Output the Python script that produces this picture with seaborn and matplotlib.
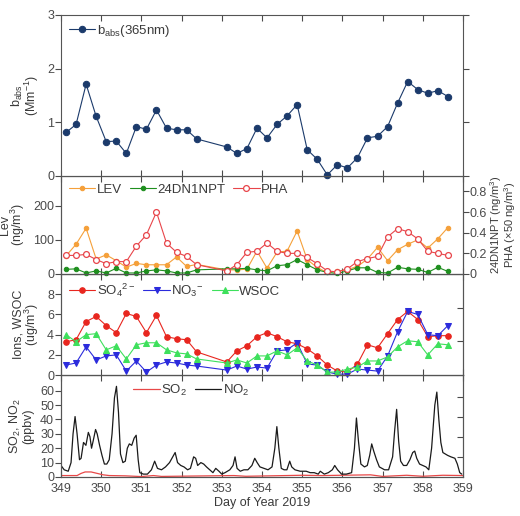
import matplotlib
matplotlib.use("Agg")

import matplotlib.pyplot as plt
import seaborn as sns
import numpy as np

# 6-hourly filter samples (two samples missing on day 352)
sample_day = np.r_[np.arange(349.125, 352.4, 0.25), np.arange(353.125, 358.7, 0.25)]

babs = [0.81, 0.96, 1.71, 1.11, 0.64, 0.65, 0.42, 0.92, 0.87, 1.23, 0.89, 0.86, 0.86, 0.69,
        0.54, 0.42, 0.51, 0.89, 0.71, 0.96, 1.12, 1.33, 0.49, 0.31, 0.02, 0.21, 0.15, 0.34,
        0.71, 0.74, 0.92, 1.36, 1.76, 1.61, 1.54, 1.59, 1.48]

lev = [53, 87, 134, 44, 56, 39, 20, 31, 27, 27, 27, 50, 22, 28,
       12, 12, 14, 67, 17, 64, 67, 126, 42, 19, 4, 8, 13, 22,
       44, 78, 39, 71, 87, 100, 76, 103, 136]
dn1npt = [0.045, 0.05, 0.01, 0.03, 0.01, 0.055, 0.01, 0.01, 0.03, 0.04, 0.03, 0.01, 0.01, 0.04,
          0.05, 0.05, 0.055, 0.04, 0.03, 0.08, 0.09, 0.14, 0.09, 0.04, 0.015, 0.005, 0.03, 0.06,
          0.06, 0.015, 0.01, 0.065, 0.05, 0.045, 0.015, 0.065, 0.025]
pha = [0.18, 0.18, 0.19, 0.14, 0.10, 0.12, 0.12, 0.27, 0.38, 0.60, 0.30, 0.21, 0.17, 0.09,
       0.03, 0.09, 0.21, 0.22, 0.30, 0.22, 0.20, 0.20, 0.16, 0.10, 0.03, 0.02, 0.05, 0.12,
       0.15, 0.17, 0.36, 0.44, 0.41, 0.34, 0.22, 0.20, 0.18]

so4 = [3.3, 3.5, 5.3, 5.8, 4.9, 4.2, 6.1, 5.8, 4.2, 5.9, 3.8, 3.6, 3.5, 2.3,
       1.3, 2.4, 2.9, 3.8, 4.2, 3.8, 3.3, 3.1, 2.6, 1.9, 1.0, 0.4, 0.3, 1.1,
       3.0, 2.7, 4.1, 5.5, 6.3, 5.5, 3.8, 3.9, 3.9]
no3 = [1.0, 1.2, 2.8, 1.5, 1.9, 2.0, 0.4, 1.4, 0.3, 1.0, 1.3, 1.2, 1.0, 0.9,
       0.5, 0.9, 0.6, 0.8, 0.7, 2.4, 2.5, 3.2, 1.1, 1.0, 0.3, 0.1, 0.1, 0.6,
       0.5, 0.4, 1.9, 4.3, 6.3, 6.0, 4.0, 3.9, 4.9]
wsoc = [4.0, 3.3, 4.0, 4.1, 2.5, 2.9, 1.6, 3.0, 3.2, 3.2, 2.5, 2.2, 2.1, 1.6,
        1.2, 1.5, 1.2, 1.9, 1.9, 2.4, 2.0, 2.7, 1.4, 1.0, 0.3, 0.3, 0.6, 0.8,
        1.4, 1.4, 1.8, 2.8, 3.4, 3.3, 2.0, 3.1, 3.0]

# hourly gases, read as breakpoints
no2_day = [349.00, 349.08, 349.18, 349.25, 349.30, 349.35, 349.40, 349.46, 349.50, 349.56,
           349.62, 349.68, 349.72, 349.76, 349.80, 349.86, 349.90, 349.96, 350.02, 350.08,
           350.14, 350.20, 350.27, 350.33, 350.38, 350.43, 350.48, 350.54, 350.60, 350.65,
           350.70, 350.76, 350.82, 350.87, 350.92, 350.96, 351.05, 351.15, 351.25, 351.33,
           351.40, 351.50, 351.60, 351.70, 351.80, 351.84, 351.90, 351.98, 352.06, 352.15,
           352.22, 352.30, 352.35, 352.40, 352.48, 352.55, 352.62, 352.70, 352.78, 352.85,
           352.93, 353.00, 353.08, 353.20, 353.28, 353.33, 353.38, 353.46, 353.55, 353.65,
           353.75, 353.82, 353.88, 353.95, 354.05, 354.15, 354.25, 354.32, 354.37, 354.42,
           354.48, 354.55, 354.62, 354.69, 354.74, 354.82, 354.95, 355.10, 355.20, 355.30,
           355.40, 355.45, 355.55, 355.65, 355.75, 355.81, 355.88, 355.98, 356.10, 356.23,
           356.30, 356.35, 356.40, 356.46, 356.55, 356.62, 356.68, 356.73, 356.78, 356.85,
           356.92, 357.05, 357.15, 357.25, 357.30, 357.35, 357.40, 357.45, 357.52, 357.60,
           357.68, 357.75, 357.80, 357.85, 357.92, 358.00, 358.08, 358.15, 358.22, 358.30,
           358.35, 358.40, 358.45, 358.50, 358.56, 358.62, 358.70, 358.80, 358.86, 358.92,
           358.97]
no2 = [8, 5, 4, 10, 30, 42, 30, 12, 13, 24,
       22, 31, 28, 20, 25, 33, 30, 22, 15, 9,
       9, 12, 30, 55, 63, 45, 16, 10, 11, 20,
       23, 22, 27, 29, 12, 3, 2, 2, 5, 11,
       6, 5, 7, 10, 15, 17, 10, 8, 7, 5,
       6, 14, 13, 8, 10, 9, 7, 5, 3, 6,
       4, 2, 3, 5, 8, 14, 6, 4, 5, 5,
       8, 13, 10, 7, 6, 5, 7, 20, 35, 20,
       6, 5, 5, 11, 7, 5, 4, 4, 3, 3,
       2, 4, 2, 3, 5, 8, 5, 2, 2, 3,
       20, 41, 25, 9, 7, 8, 15, 23, 18, 12,
       7, 5, 5, 14, 32, 47, 25, 11, 8, 8,
       12, 17, 18, 13, 9, 8, 7, 5, 20, 50,
       59, 40, 24, 17, 16, 15, 14, 13, 9, 3,
       2]
so2_day = [349.0, 349.4, 349.5, 349.6, 349.75, 349.9, 350.05, 350.2, 350.6, 351.0, 351.3,
           351.5, 353.3, 353.6, 354.6, 355.0, 355.5, 356.7, 357.0, 357.6, 358.0, 358.5, 359.0]
so2 = [1.0, 1.0, 2.5, 3.5, 3.5, 2.5, 1.5, 1.0, 0.8, 0.3, 1.0,
       0.4, 1.0, 0.5, 1.0, 1.2, 1.0, 1.5, 0.4, 1.2, 0.5, 1.2, 1.0]

day_ticks = list(range(349, 360))

sns.set_style("ticks")
plt.rcParams["font.family"] = ["Liberation Sans", "DejaVu Sans"]
plt.rcParams["mathtext.default"] = "regular"
plt.rcParams["font.size"] = 9
plt.rcParams["text.color"] = "#3a3a3a"
plt.rcParams["axes.labelcolor"] = "#3a3a3a"
plt.rcParams["xtick.color"] = "#4a4a4a"
plt.rcParams["ytick.color"] = "#4a4a4a"
plt.rcParams["axes.edgecolor"] = "#555555"
plt.rcParams["axes.linewidth"] = 0.8

fig = plt.figure(figsize=(5.2, 5.16), dpi=100)
L, W = 0.1173, 0.773
# added bottom first so upper panels' markers sit on top
ax4 = fig.add_axes([L, 0.0756, W, 0.198])
ax3 = fig.add_axes([L, 0.273, W, 0.196], sharex=ax4)
ax2 = fig.add_axes([L, 0.469, W, 0.190], sharex=ax4)
ax1 = fig.add_axes([L, 0.659, W, 0.312], sharex=ax4)

navy = "#1b3a6b"
orange = "#f5a03a"
dkgreen = "#1f8f1f"
pha_red = "#e8454a"
red = "#e8261f"
blue = "#2b2bdc"
green = "#3ee05c"

leg_kw = dict(frameon=False, handlelength=2.0, handletextpad=0.1, columnspacing=0.6,
              borderaxespad=0.2, fontsize=9.5)

# panel 1: absorption
sns.lineplot(x=sample_day, y=babs, ax=ax1, color=navy, marker="o", markersize=4.6,
             markeredgecolor=navy, linewidth=0.8, estimator=None, sort=False,
             label="b$_{abs}$(365nm)", clip_on=False, legend=False)
ax1.set_ylim(0, 3)
ax1.set_yticks([0, 1, 2, 3])
ax1.set_ylabel("b$_{abs}$\n(Mm$^{-1}$)", linespacing=0.9)
ax1.legend(loc="upper left", **leg_kw)

# panel 2: tracers
ax2r = ax2.twinx()
sns.lineplot(x=sample_day, y=lev, ax=ax2, color=orange, marker="o", markersize=3.2,
             markeredgecolor=orange, linewidth=0.8, estimator=None, sort=False,
             label="LEV", legend=False)
sns.lineplot(x=sample_day, y=dn1npt, ax=ax2r, color=dkgreen, marker="o", markersize=3.2,
             markeredgecolor=dkgreen, linewidth=0.8, estimator=None, sort=False,
             label="24DN1NPT", clip_on=False, legend=False)
sns.lineplot(x=sample_day, y=pha, ax=ax2r, color=pha_red, marker="o", markersize=4.2,
             markerfacecolor="white", markeredgecolor=pha_red, markeredgewidth=0.9,
             linewidth=0.8, estimator=None, sort=False, label="PHA", legend=False)
ax2.set_ylim(0, 287)
ax2.set_yticks([0, 100, 200])
ax2.set_ylabel("Lev\n(ng/m$^3$)", linespacing=0.9)
ax2r.set_ylim(0, 0.95)
ax2r.set_yticks([0, 0.2, 0.4, 0.6, 0.8])
ax2r.set_yticklabels(["0", "0.2", "0.4", "0.6", "0.8"])
ax2r.set_ylabel("24DN1NPT (ng/m$^3$)\nPHA (\u00d750 ng/m$^3$)", linespacing=0.85,
                labelpad=1, fontsize=8)
h1, l1 = ax2.get_legend_handles_labels()
h2, l2 = ax2r.get_legend_handles_labels()
ax2r.legend(h1 + h2, l1 + l2, loc="upper left", ncol=3, **leg_kw)

# panel 3: ions and WSOC
sns.lineplot(x=sample_day, y=so4, ax=ax3, color=red, marker="o", markersize=4,
             markeredgecolor=red, linewidth=0.8, estimator=None, sort=False,
             label="SO$_4$$^{2-}$", clip_on=False, legend=False)
sns.lineplot(x=sample_day, y=no3, ax=ax3, color=blue, marker="v", markersize=4,
             markeredgecolor=blue, linewidth=0.8, estimator=None, sort=False,
             label="NO$_3$$^{-}$", clip_on=False, legend=False)
sns.lineplot(x=sample_day, y=wsoc, ax=ax3, color=green, marker="^", markersize=4,
             markeredgecolor=green, linewidth=0.8, estimator=None, sort=False,
             label="WSOC", clip_on=False, legend=False)
ax3.set_ylim(0, 10)
ax3.set_yticks([0, 2, 4, 6, 8])
ax3.set_ylabel("Ions, WSOC\n(ug/m$^3$)", linespacing=0.9)
ax3.legend(loc="upper left", ncol=3, **leg_kw)
ax3r = ax3.twinx()
ax3r.set_ylim(0, 3)
ax3r.set_yticks([1, 2])
ax3r.set_yticklabels([])

# panel 4: gases
sns.lineplot(x=so2_day, y=so2, ax=ax4, color="#e84848", linewidth=0.9,
             estimator=None, sort=False, label="SO$_2$", legend=False)
sns.lineplot(x=no2_day, y=no2, ax=ax4, color="#1a1a1a", linewidth=0.9,
             estimator=None, sort=False, label="NO$_2$", legend=False)
ax4.set_ylim(0, 71)
ax4.set_yticks([0, 10, 20, 30, 40, 50, 60])
ax4.set_ylabel("SO$_2$, NO$_2$\n(ppbv)", linespacing=0.9)
ax4.legend(loc="upper left", bbox_to_anchor=(0.16, 1.0), ncol=2, **leg_kw)
ax4r = ax4.twinx()
ax4r.set_ylim(0, 5.1)
ax4r.set_yticks([1, 2, 3, 4])
ax4r.set_yticklabels([])

ax4.set_xlim(349, 359)
ax4.set_xticks(day_ticks)

for ax in (ax1, ax2, ax3, ax4):
    ax.tick_params(axis="x", direction="in", top=True, length=4, width=0.8, pad=4)
    ax.tick_params(axis="y", direction="out", length=4, width=0.8, pad=1)
    ax.set_xlabel("")
for ax in (ax1, ax2, ax3):
    ax.tick_params(axis="x", labelbottom=False)
ax4.set_xlabel("Day of Year 2019", labelpad=2)
ax1.tick_params(axis="y", right=True)
ax2r.tick_params(axis="y", direction="out", length=4, width=0.8, pad=1)
for ax in (ax3r, ax4r):
    ax.tick_params(axis="y", direction="in", length=4, width=0.8)
for ax in (ax2r, ax3r, ax4r):
    ax.set_xticks(day_ticks)

fig.savefig("out.png", dpi=100)
